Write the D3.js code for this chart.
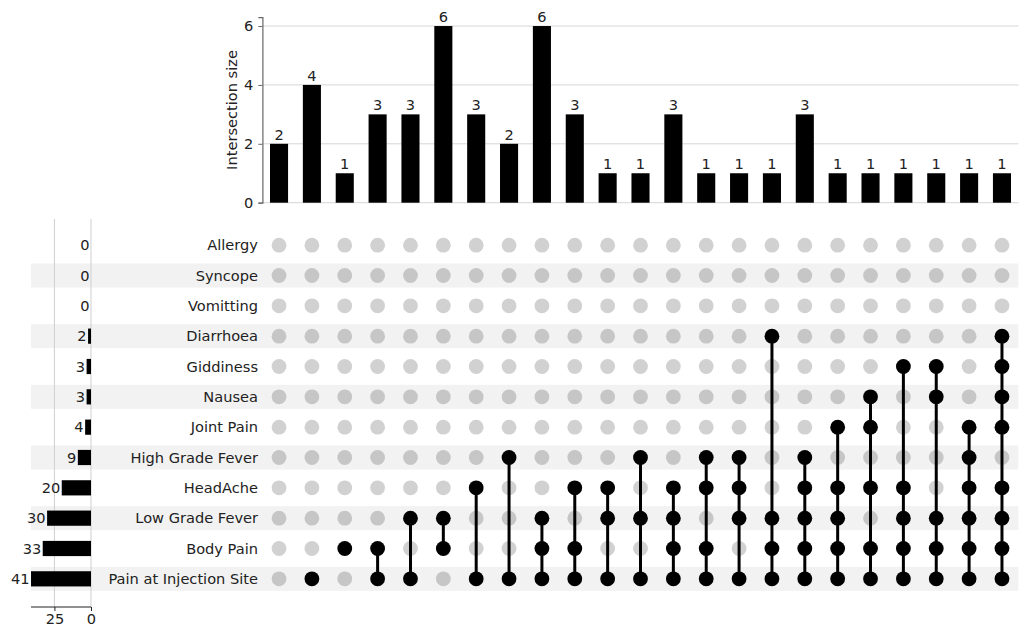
<!DOCTYPE html>
<html>
<head>
<meta charset="utf-8">
<script src="https://cdn.jsdelivr.net/npm/d3@7"></script>
<style>
  html, body { margin: 0; padding: 0; background: #fff; }
  svg { display: block; font-family: "DejaVu Sans", sans-serif; }
</style>
</head>
<body>
<svg id="chart" width="1026" height="631"></svg>
<script>
// ---- data ----
const categories = ["Allergy", "Syncope", "Vomitting", "Diarrhoea", "Giddiness", "Nausea",
  "Joint Pain", "High Grade Fever", "HeadAche", "Low Grade Fever", "Body Pain", "Pain at Injection Site"];
const setSizes = [0, 0, 0, 2, 3, 3, 4, 9, 20, 30, 33, 41];
const intersectionSizes = [2, 4, 1, 3, 3, 6, 3, 2, 6, 3, 1, 1, 3, 1, 1, 1, 3, 1, 1, 1, 1, 1, 1];
const memberships = [
  [],
  ["Pain at Injection Site"],
  ["Body Pain"],
  ["Body Pain", "Pain at Injection Site"],
  ["Low Grade Fever", "Pain at Injection Site"],
  ["Low Grade Fever", "Body Pain"],
  ["HeadAche", "Pain at Injection Site"],
  ["High Grade Fever", "Pain at Injection Site"],
  ["Low Grade Fever", "Body Pain", "Pain at Injection Site"],
  ["HeadAche", "Body Pain", "Pain at Injection Site"],
  ["HeadAche", "Low Grade Fever", "Pain at Injection Site"],
  ["High Grade Fever", "Low Grade Fever", "Pain at Injection Site"],
  ["HeadAche", "Low Grade Fever", "Body Pain", "Pain at Injection Site"],
  ["High Grade Fever", "HeadAche", "Body Pain", "Pain at Injection Site"],
  ["High Grade Fever", "HeadAche", "Low Grade Fever", "Pain at Injection Site"],
  ["Diarrhoea", "Low Grade Fever", "Body Pain", "Pain at Injection Site"],
  ["High Grade Fever", "HeadAche", "Low Grade Fever", "Body Pain", "Pain at Injection Site"],
  ["Joint Pain", "HeadAche", "Low Grade Fever", "Body Pain", "Pain at Injection Site"],
  ["Nausea", "Joint Pain", "HeadAche", "Body Pain", "Pain at Injection Site"],
  ["Giddiness", "HeadAche", "Low Grade Fever", "Body Pain", "Pain at Injection Site"],
  ["Giddiness", "Nausea", "Low Grade Fever", "Body Pain", "Pain at Injection Site"],
  ["Joint Pain", "High Grade Fever", "HeadAche", "Low Grade Fever", "Body Pain", "Pain at Injection Site"],
  ["Diarrhoea", "Giddiness", "Nausea", "Joint Pain", "HeadAche", "Low Grade Fever", "Body Pain", "Pain at Injection Site"]
];
const intersectionTicks = [0, 2, 4, 6];
const setSizeTicks = [25, 0];

// ---- layout ----
const svg = d3.select("#chart");
const FS = 14.6;
const colIdx = d3.range(intersectionSizes.length);

const x = d3.scaleBand().domain(colIdx).range([262.6, 1018.4]).padding(0);
const cx = i => x(i) + x.bandwidth() / 2;
const row = d3.scaleBand().domain(categories).range([230, 594]).padding(0);
const cy = c => row(c) + row.bandwidth() / 2;

const yTop = d3.scaleLinear().domain([0, 6.3]).range([202.7, 17.2]);
const xLeft = d3.scaleLinear().domain([0, 41]).range([91, 31]);
const axisY = 607;

// ---- shading bands ----
svg.append("g").selectAll("rect")
  .data(categories.filter((c, i) => i % 2 === 1))
  .join("rect")
  .attr("x", 31).attr("width", 1018.4 - 31)
  .attr("y", d => cy(d) - 12).attr("height", 24)
  .attr("fill", "#f2f2f2");

// ---- top intersection bars ----
const gTop = svg.append("g");
gTop.append("g").selectAll("line")
  .data(intersectionTicks)
  .join("line")
  .attr("x1", 262.6).attr("x2", 1018.4)
  .attr("y1", d => yTop(d)).attr("y2", d => yTop(d))
  .attr("stroke", "#d6d6d6").attr("stroke-width", 1);

const yAxis = d3.axisLeft(yTop).tickValues(intersectionTicks).tickSize(4).tickPadding(5).tickFormat(d3.format("d"));
const ga = gTop.append("g").attr("transform", "translate(262.4,0)").call(yAxis);
ga.select(".domain").attr("stroke", "#666").attr("stroke-width", 1.2);
ga.selectAll(".tick line").attr("stroke", "#666");
ga.selectAll(".tick text").attr("font-size", FS).attr("fill", "#222").attr("font-family", "DejaVu Sans");

const bw = x.step() * 0.55;
gTop.append("g").selectAll("rect")
  .data(colIdx)
  .join("rect")
  .attr("x", i => cx(i) - bw / 2).attr("width", bw)
  .attr("y", i => yTop(intersectionSizes[i]))
  .attr("height", i => yTop(0) - yTop(intersectionSizes[i]))
  .attr("fill", "#000");

gTop.append("g").selectAll("text")
  .data(colIdx)
  .join("text")
  .attr("x", i => cx(i)).attr("y", i => yTop(intersectionSizes[i]) - 4)
  .attr("text-anchor", "middle").attr("font-size", FS).attr("fill", "#222")
  .text(i => intersectionSizes[i]);

svg.append("text")
  .attr("transform", "translate(237,110) rotate(-90)")
  .attr("text-anchor", "middle").attr("font-size", FS).attr("fill", "#222")
  .text("Intersection size");

// ---- left set-size bars ----
const gLeft = svg.append("g");
gLeft.append("g").selectAll("line")
  .data(setSizeTicks)
  .join("line")
  .attr("x1", d => xLeft(d)).attr("x2", d => xLeft(d))
  .attr("y1", 219).attr("y2", axisY)
  .attr("stroke", "#cfcfcf").attr("stroke-width", 1);

gLeft.append("g").selectAll("rect")
  .data(categories)
  .join("rect")
  .attr("x", (c, i) => xLeft(setSizes[i]))
  .attr("width", (c, i) => xLeft(0) - xLeft(setSizes[i]))
  .attr("y", c => cy(c) - 7.6).attr("height", 15.2)
  .attr("fill", "#000");

gLeft.append("g").selectAll("text")
  .data(categories)
  .join("text")
  .attr("x", (c, i) => xLeft(setSizes[i]) - 1.5)
  .attr("y", c => cy(c)).attr("dy", "0.35em")
  .attr("text-anchor", "end").attr("font-size", FS).attr("fill", "#222")
  .text((c, i) => setSizes[i]);

const xAxis = d3.axisBottom(xLeft).tickValues(setSizeTicks).tickSize(4).tickPadding(3).tickFormat(d3.format("d"));
const gx = gLeft.append("g").attr("transform", `translate(0,${axisY})`).call(xAxis);
gx.select(".domain").attr("stroke", "#222").attr("stroke-width", 1.2).attr("d", `M${xLeft(41)},0H${xLeft(0)}`);
gx.selectAll(".tick line").attr("stroke", "#222");
gx.selectAll(".tick text").attr("font-size", FS).attr("fill", "#222").attr("font-family", "DejaVu Sans");

// ---- category labels ----
svg.append("g").selectAll("text")
  .data(categories)
  .join("text")
  .attr("x", 258).attr("y", c => cy(c)).attr("dy", "0.35em")
  .attr("text-anchor", "end").attr("font-size", FS).attr("fill", "#222")
  .text(c => c);

// ---- matrix ----
const gM = svg.append("g");
const cells = [];
colIdx.forEach(i => categories.forEach(c => cells.push({ i, c, on: memberships[i].includes(c) })));

gM.append("g").selectAll("circle")
  .data(cells.filter(d => !d.on))
  .join("circle")
  .attr("cx", d => cx(d.i)).attr("cy", d => cy(d.c)).attr("r", 7.4)
  .attr("fill", "#000").attr("fill-opacity", 0.18);

gM.append("g").selectAll("line")
  .data(colIdx.filter(i => memberships[i].length > 1))
  .join("line")
  .attr("x1", i => cx(i)).attr("x2", i => cx(i))
  .attr("y1", i => d3.min(memberships[i], cy)).attr("y2", i => d3.max(memberships[i], cy))
  .attr("stroke", "#000").attr("stroke-width", 3);

gM.append("g").selectAll("circle")
  .data(cells.filter(d => d.on))
  .join("circle")
  .attr("cx", d => cx(d.i)).attr("cy", d => cy(d.c)).attr("r", 7.4)
  .attr("fill", "#000");
</script>
</body>
</html>
